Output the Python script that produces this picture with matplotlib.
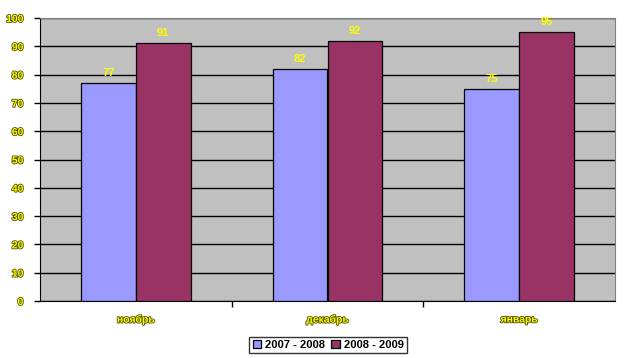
import matplotlib.pyplot as plt
import matplotlib.patheffects as pe
import numpy as np

plt.rcParams['font.family'] = ['Liberation Sans', 'DejaVu Sans']

months = ['ноябрь', 'декабрь', 'январь']
s1 = [77, 82, 75]
s2 = [91, 92, 95]
labels = ['2007 - 2008', '2008 - 2009']

fig = plt.figure(figsize=(6.26, 3.58), dpi=100)
ax = fig.add_axes([40/626, 57/358, 575/626, 283/358])
ax.set_facecolor('#C0C0C0')

x = np.arange(len(months))
w = 0.2857
b1 = ax.bar(x - w/2, s1, w, color='#9999FF', edgecolor='black', linewidth=0.9, label=labels[0], zorder=3)
b2 = ax.bar(x + w/2, s2, w, color='#993366', edgecolor='black', linewidth=0.9, label=labels[1], zorder=3)

outline = [pe.withStroke(linewidth=1.2, foreground='#4d4d00')]
for bars, vals in ((b1, s1), (b2, s2)):
    for r, v in zip(bars, vals):
        ax.text(r.get_x() + r.get_width()/2, v + 1.8, str(v), ha='center', va='bottom',
                color='#FFFF00', fontsize=8, fontweight='bold')

ax.set_xlim(-0.5, 2.5)
ax.set_ylim(0, 100)
ax.set_yticks(range(0, 101, 10))
ax.yaxis.grid(True, color='black', linewidth=1, zorder=1)
ax.set_axisbelow(True)
ax.set_xticks([0.5, 1.5])
ax.set_xticklabels([])
ax.tick_params(axis='x', length=4, width=1, direction='out')
ax.tick_params(axis='y', length=4, width=1, direction='out', pad=8)
for t in ax.get_yticklabels():
    t.set_fontsize(7.5)
    t.set_fontweight('bold')
    t.set_color('#FFFF00')
    t.set_path_effects(outline)
for i, m in enumerate(months):
    ax.text(i, -6.5, m, ha='center', va='center', fontsize=7.5, fontweight='bold',
            color='#FFFF00', path_effects=outline)

for s in ('top', 'right'):
    ax.spines[s].set_color('#808080')
for s in ('left', 'bottom'):
    ax.spines[s].set_color('black')

leg = fig.legend(loc='center', bbox_to_anchor=(328/626, 1 - 345/358), ncol=2,
                 prop={'weight': 'bold', 'size': 8}, frameon=True, fancybox=False,
                 handlelength=0.8, handleheight=0.8, handletextpad=0.3, columnspacing=0.6,
                 borderpad=0.3, edgecolor='black')
leg.get_frame().set_linewidth(1)

fig.savefig('out.png', dpi=100)
